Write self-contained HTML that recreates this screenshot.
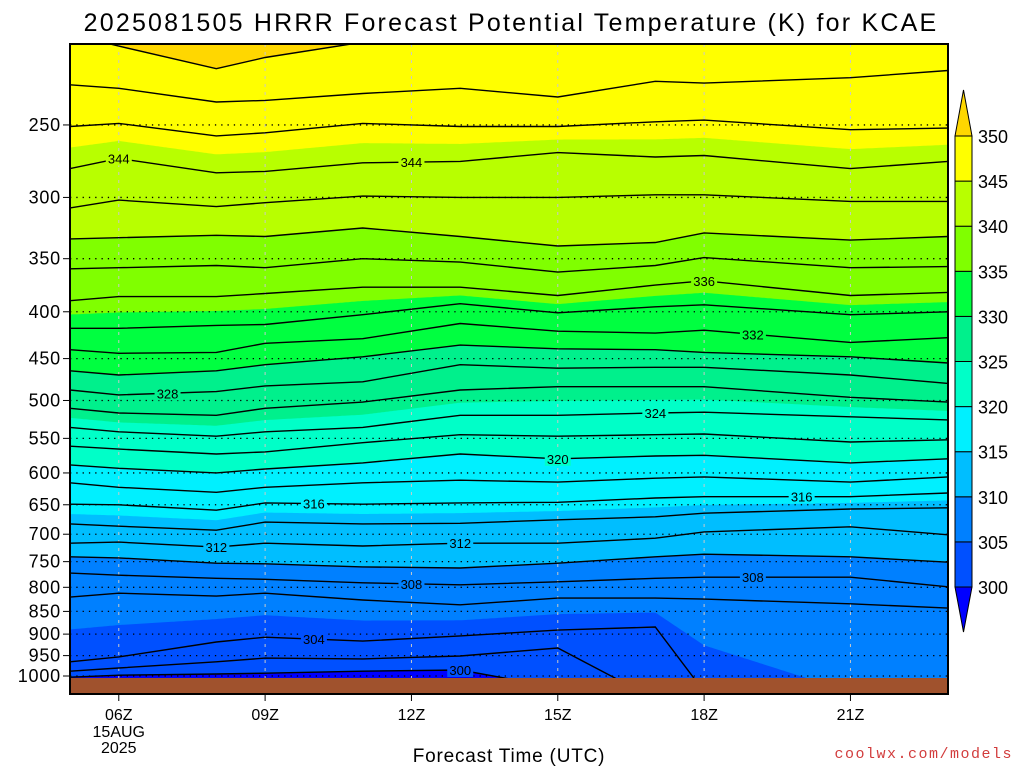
<!DOCTYPE html>
<html><head><meta charset="utf-8">
<style>
html,body{margin:0;padding:0;background:#fff;overflow:hidden;}
svg{display:block;font-family:"Liberation Sans",sans-serif;}
</style></head>
<body>
<svg id="chart" width="1024" height="768" viewBox="0 0 1024 768" xmlns="http://www.w3.org/2000/svg">
<defs><clipPath id="plotclip"><rect x="70" y="44" width="878" height="634"/></clipPath></defs>
<text x="511" y="31" text-anchor="middle" font-size="25" letter-spacing="2.2" fill="#000">2025081505 HRRR Forecast Potential Temperature (K) for KCAE</text>
<g id="fills" clip-path="url(#plotclip)"></g>
<rect x="70" y="678" width="878" height="16" fill="#a0522d"/>
<g id="grid"></g>
<g id="lines" clip-path="url(#plotclip)"></g>
<g id="labels"></g>
<rect x="70" y="44" width="878" height="650" fill="none" stroke="#000" stroke-width="2"/>
<g id="yaxis"></g>
<g id="xaxis"></g>
<text x="509" y="762" text-anchor="middle" font-size="19" letter-spacing="0.8">Forecast Time (UTC)</text>
<text x="1013" y="758" text-anchor="end" font-size="15" letter-spacing="1.5" fill="#d23c3c" font-family="Liberation Mono, monospace">coolwx.com/models</text>
<g id="colorbar"></g>
</svg>
<script>
const times=[5,6,8,9,11,13,15,17,18,21,23];
const thetaLevels=[300,302,304,306,308,310,312,314,316,318,320,322,324,326,328,330,332,334,336,338,340,342,344,346,348,350];
const p300=[1003,998,995,993,988,985,1030,1080,1120,1500,1500];
const p302=[988,980,965,956,958,951,932,1060,1100,1400,1400];
const p304=[965,953,918,907,916,904,891,884,1040,1300,1250];
const p306=[820,812,818,812,826,836,822,822,824,834,843];
const p308=[772,776,782,784,791,795,789,782,780,780,799];
const p310=[741,743,753,754,760,762,753,741,736,741,751];
const p312=[716,714,723,716,721,716,716,707,696,687,701];
const p314=[682,686,693,679,682,681,675,670,664,657,655];
const p316=[649,650,659,647,649,647,646,639,637,637,631];
const p318=[615,622,630,622,615,611,614,608,606,614,606];
const p320=[588,593,600,594,585,572,579,575,574,585,579];
const p322=[561,565,572,569,556,545,547,545,544,555,552];
const p324=[535,541,547,541,535,519,519,516,515,521,525];
const p326=[510,516,519,510,502,487,483,483,483,496,502];
const p328=[487,493,489,482,477,457,461,460,460,469,479];
const p330=[464,469,464,457,448,435,439,440,443,448,455];
const p332=[440,444,443,433,428,412,420,422,419,432,427];
const p334=[417,417,414,413,403,392,401,395,393,403,400];
const p336=[389,385,385,382,376,376,384,374,370,384,381];
const p338=[359,358,356,358,350,353,362,356,349,358,357];
const p340=[333,332,330,331,324,331,339,336,328,334,331];
const p342=[308,302,307,304,299,300,300,298,298,303,303];
const p344=[279,272,282,281,275,274,268,271,270,279,274];
const p346=[251,249,257,255,249,251,251,248,247,253,252];
const p348=[226,228,236,235,231,228,233,224,225,222,218];
const p350=[199,205,217,211,203,192,192,192,192,192,192];
const isentropes=[p300,p302,p304,p306,p308,p310,p312,p314,p316,p318,p320,p322,p324,p326,p328,p330,p332,p334,p336,p338,p340,p342,p344,p346,p348,p350];
const bandThresholds=[300,305,310,315,320,325,330,335,340,345,350];
const bandColors=["#0050ff","#0080ff","#00beff","#00f0ff","#00ffc8","#00f08c","#00ff40","#80ff00","#b8ff00","#ffff00","#ffd700"];
const belowColor="#0000ff";
const pressureTicks=[250,300,350,400,450,500,550,600,650,700,750,800,850,900,950,1000];
const timeTicks=[6,9,12,15,18,21];
const timeTickLabels=["06Z","09Z","12Z","15Z","18Z","21Z"];
const labelLevels=[344,344,336,332,328,324,320,316,316,312,312,308,308,304,300];
const labelTimes=[6,12,18,19,7,17,15,10,20,8,13,12,19,10,13];

const NS="http://www.w3.org/2000/svg";
const X0=70,X1=948,T0=5,T1=23;
function xOfT(t){return X0+(t-T0)*(X1-X0)/(T1-T0);}
function tOfX(x){return T0+(x-X0)*(T1-T0)/(X1-X0);}
function yOfP(p){return 676-397.5*Math.log(1000/p);}
function mk(tag,attrs,parent){const e=document.createElementNS(NS,tag);for(const k in attrs)e.setAttribute(k,attrs[k]);parent.appendChild(e);return e;}

function isenY(k,t){
  const arr=isentropes[k];
  let i=0;
  if(t<=times[0])return yOfP(arr[0]);
  if(t>=times[times.length-1])return yOfP(arr[arr.length-1]);
  while(times[i+1]<t)i++;
  const f=(t-times[i])/(times[i+1]-times[i]);
  return yOfP(arr[i])*(1-f)+yOfP(arr[i+1])*f;
}
function columnYs(t){
  const ys=[];
  for(let k=0;k<isentropes.length;k++){
    let y=isenY(k,t);
    if(k>0&&y>ys[k-1])y=ys[k-1];
    ys.push(y);
  }
  return ys;
}
function yOfTheta(ys,c){
  const L=thetaLevels;
  if(c<=L[0])return ys[0];
  if(c>=L[L.length-1])return ys[ys.length-1];
  let k=0;while(L[k+1]<c)k++;
  const f=(c-L[k])/(L[k+1]-L[k]);
  return ys[k]+f*(ys[k+1]-ys[k]);
}

const fills=document.getElementById('fills');
const base=mk('rect',{x:70,y:44,width:878,height:634,fill:belowColor},fills);


const xs=[];for(let x=X0;x<=X1;x+=2)xs.push(x);
const cols=xs.map(x=>columnYs(tOfX(x)));
bandThresholds.forEach((c,bi)=>{
  let pts=[[X0,40],[X1,40]];
  for(let i=xs.length-1;i>=0;i--){
    let y=yOfTheta(cols[i],c);
    y=Math.max(40,Math.min(680,y));
    pts.push([xs[i],y]);
  }
  const poly=mk('polygon',{points:pts.map(p=>p[0].toFixed(1)+','+p[1].toFixed(1)).join(' '),fill:bandColors[bi]},fills);
  
  
});

const grid=document.getElementById('grid');
pressureTicks.forEach(p=>{
  const y=yOfP(p);
  const l=mk('line',{x1:70,x2:948,y1:y,y2:y,stroke:'#000','stroke-width':1.3,'stroke-dasharray':'1.3 5'},grid);
  
  
});
timeTicks.forEach(t=>{
  const x=xOfT(t);
  const l=mk('line',{x1:x,x2:x,y1:44,y2:678,stroke:'#c8c8c8','stroke-width':1,'stroke-dasharray':'3 5'},grid);
  
  
});

const lines=document.getElementById('lines');
thetaLevels.forEach((L,k)=>{
  const pts=times.map(t=>[xOfT(t),columnYs(t)[k]]);
  const pl=mk('polyline',{points:pts.map(p=>p[0].toFixed(1)+','+p[1].toFixed(1)).join(' '),fill:'none',stroke:'#000','stroke-width':1.4},lines);
  
  
});

const labels=document.getElementById('labels');
function bandColorFor(v){let c=belowColor;bandThresholds.forEach((th,i)=>{if(v>=th)c=bandColors[i];});return c;}
labelLevels.forEach((L,i)=>{
  const t=labelTimes[i];const k=thetaLevels.indexOf(L);
  const x=xOfT(t),y=columnYs(t)[k];
  if(y>676)return;
  const r=mk('rect',{x:x-13,y:y-7,width:26,height:14,fill:bandColorFor(L+0.5)},labels);
  
  
  const tx=mk('text',{x:x,y:y+5,'text-anchor':'middle','font-size':13},labels);
  tx.textContent=L;
  
  
});

const ya=document.getElementById('yaxis');
pressureTicks.forEach(p=>{
  const y=yOfP(p);
  const t=mk('text',{x:61,y:y+6,'text-anchor':'end','font-size':18,'letter-spacing':'0.8'},ya);
  t.textContent=p;
  
  
  const tk=mk('line',{x1:63,x2:70,y1:y,y2:y,stroke:'#000','stroke-width':1},ya);
  
  
});
const xa=document.getElementById('xaxis');
timeTicks.forEach((t,i)=>{
  const x=xOfT(t);
  const tk=mk('line',{x1:x,x2:x,y1:694,y2:701,stroke:'#000','stroke-width':1},xa);
  
  
  const tx=mk('text',{x:x,y:720,'text-anchor':'middle','font-size':16},xa);
  tx.textContent=timeTickLabels[i];
  
  
});
const d1=mk('text',{x:xOfT(6),y:737,'text-anchor':'middle','font-size':16},xa);
d1.textContent='15AUG';


const d2=mk('text',{x:xOfT(6),y:753,'text-anchor':'middle','font-size':16},xa);
d2.textContent='2025';



const cb=document.getElementById('colorbar');
const cbX=955,cbW=17,cbTop=136,cbStep=45.1;
function cbY(v){return cbTop+(350-v)/5*cbStep;}
const inner=bandThresholds.slice(0,10);
inner.forEach((v,i)=>{
  const r=mk('rect',{x:cbX,y:cbY(v+5),width:cbW,height:cbStep,fill:bandColors[i],stroke:'#000','stroke-width':1},cb);
  
  
});
const up=mk('polygon',{points:`${cbX},${cbY(350)} ${cbX+cbW},${cbY(350)} ${cbX+cbW/2},90`,fill:bandColors[10],stroke:'#000','stroke-width':1},cb);


const dn=mk('polygon',{points:`${cbX},${cbY(300)} ${cbX+cbW},${cbY(300)} ${cbX+cbW/2},632`,fill:belowColor,stroke:'#000','stroke-width':1},cb);


bandThresholds.forEach(v=>{
  const t=mk('text',{x:978,y:cbY(v)+7,'font-size':18},cb);
  t.textContent=v;
  
  
});
</script>
</body></html>
